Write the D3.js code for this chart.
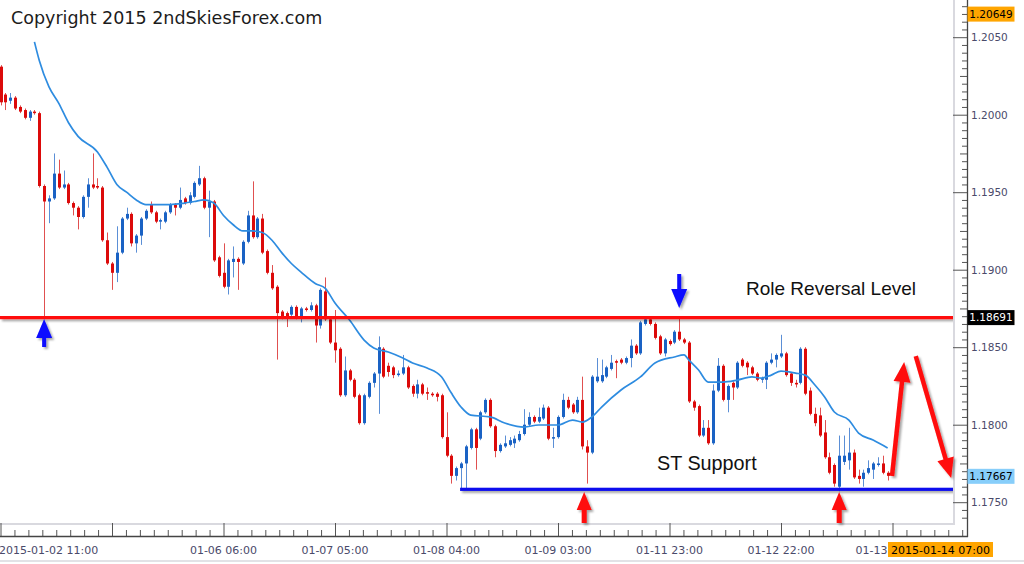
<!DOCTYPE html>
<html><head><meta charset="utf-8">
<script src="https://cdn.jsdelivr.net/npm/d3@7"></script>
<style>
html,body{margin:0;padding:0;background:#fff;}
svg{display:block;}
</style></head><body>
<svg id="chart" width="1024" height="564"></svg>
<script>
// ---- hourly EURUSD candles (index 0 = 2015-01-02 11:00) ----
const open = [1.2031,1.2013,1.2009,1.2011,1.2005,1.2003,1.1998,1.2002,1.2001,1.1954,
1.1944,1.1946,1.1962,1.1953,1.1955,1.1943,1.1940,1.1934,1.1947,1.1955,
1.1954,1.1953,1.1919,1.1904,1.1898,1.1911,1.1933,1.1936,1.1917,1.1922,
1.1933,1.1942,1.1937,1.1931,1.1931,1.1937,1.1942,1.1940,1.1946,1.1943,
1.1947,1.1955,1.1959,1.1940,1.1944,1.1908,1.1898,1.1889,1.1905,1.1907,
1.1904,1.1918,1.1935,1.1921,1.1933,1.1912,1.1898,1.1889,1.1873,1.1872,
1.1871,1.1876,1.1869,1.1875,1.1874,1.1877,1.1864,1.1886,1.1868,1.1853,
1.1849,1.1819,1.1835,1.1829,1.1819,1.1801,1.1818,1.1827,1.1833,1.1849,
1.1838,1.1837,1.1832,1.1833,1.1837,1.1825,1.1820,1.1826,1.1821,1.1820,
1.1820,1.1819,1.1792,1.1780,1.1767,1.1772,1.1775,1.1785,1.1797,1.1791,
1.1808,1.1816,1.1799,1.1783,1.1786,1.1787,1.1788,1.1790,1.1794,1.1800,
1.1805,1.1802,1.1804,1.1811,1.1791,1.1792,1.1805,1.1816,1.1813,1.1808,
1.1816,1.1786,1.1782,1.1828,1.1828,1.1831,1.1836,1.1841,1.1842,1.1840,
1.1843,1.1851,1.1846,1.1865,1.1868,1.1865,1.1857,1.1846,1.1854,1.1853,
1.1860,1.1855,1.1853,1.1815,1.1812,1.1793,1.1798,1.1788,1.1822,1.1838,
1.1816,1.1827,1.1824,1.1842,1.1840,1.1837,1.1833,1.1829,1.1829,1.1840,
1.1842,1.1844,1.1846,1.1833,1.1827,1.1827,1.1849,1.1822,1.1807,1.1806,
1.1795,1.1779,1.1774,1.1760,1.1776,1.1777,1.1782,1.1767,1.1765,1.1769,
1.1771,1.1774,1.1775,1.1769];
const high = [1.2032,1.2014,1.2014,1.2012,1.2006,1.2004,1.2003,1.2003,1.2002,1.1955,
1.1948,1.1975,1.1971,1.1964,1.1956,1.1944,1.1941,1.1948,1.1959,1.1975,
1.1959,1.1954,1.1924,1.1905,1.1928,1.1934,1.1940,1.1937,1.1923,1.1934,
1.1939,1.1944,1.1938,1.1933,1.1938,1.1943,1.1943,1.1953,1.1947,1.1950,
1.1957,1.1967,1.1960,1.1951,1.1945,1.1909,1.1917,1.1907,1.1915,1.1908,
1.1919,1.1938,1.1957,1.1934,1.1936,1.1913,1.1903,1.1890,1.1874,1.1873,
1.1877,1.1877,1.1876,1.1876,1.1879,1.1878,1.1888,1.1895,1.1869,1.1874,
1.1850,1.1844,1.1836,1.1830,1.1820,1.1820,1.1828,1.1834,1.1857,1.1850,
1.1840,1.1838,1.1835,1.1845,1.1838,1.1826,1.1829,1.1827,1.1824,1.1821,
1.1821,1.1820,1.1808,1.1781,1.1773,1.1776,1.1787,1.1798,1.1798,1.1809,
1.1817,1.1817,1.1800,1.1788,1.1793,1.1792,1.1793,1.1796,1.1810,1.1808,
1.1806,1.1811,1.1813,1.1812,1.1798,1.1806,1.1820,1.1818,1.1814,1.1818,
1.1831,1.1790,1.1832,1.1843,1.1842,1.1838,1.1845,1.1842,1.1843,1.1844,
1.1855,1.1852,1.1867,1.1869,1.1869,1.1866,1.1858,1.1856,1.1855,1.1861,
1.1869,1.1856,1.1854,1.1816,1.1813,1.1803,1.1803,1.1826,1.1843,1.1839,
1.1826,1.1828,1.1841,1.1843,1.1841,1.1838,1.1834,1.1831,1.1841,1.1846,
1.1846,1.1858,1.1847,1.1834,1.1829,1.1850,1.1850,1.1824,1.1811,1.1811,
1.1803,1.1782,1.1775,1.1793,1.1793,1.1798,1.1784,1.1771,1.1771,1.1777,
1.1776,1.1779,1.1780,1.1770];
const low = [1.2006,1.2003,1.2007,1.2003,1.2001,1.1997,1.1996,1.2000,1.1953,1.1869,
1.1930,1.1945,1.1952,1.1952,1.1942,1.1935,1.1926,1.1933,1.1940,1.1952,
1.1952,1.1918,1.1903,1.1887,1.1892,1.1910,1.1932,1.1915,1.1911,1.1916,
1.1932,1.1936,1.1930,1.1926,1.1930,1.1936,1.1935,1.1939,1.1942,1.1942,
1.1946,1.1954,1.1939,1.1921,1.1905,1.1895,1.1888,1.1884,1.1895,1.1887,
1.1903,1.1917,1.1920,1.1920,1.1910,1.1897,1.1887,1.1842,1.1868,1.1863,
1.1870,1.1868,1.1866,1.1873,1.1873,1.1853,1.1862,1.1867,1.1852,1.1840,
1.1818,1.1818,1.1828,1.1817,1.1800,1.1800,1.1817,1.1824,1.1807,1.1830,
1.1831,1.1830,1.1831,1.1832,1.1823,1.1818,1.1817,1.1819,1.1816,1.1818,
1.1815,1.1791,1.1779,1.1762,1.1764,1.1758,1.1758,1.1784,1.1771,1.1790,
1.1807,1.1798,1.1779,1.1782,1.1785,1.1786,1.1785,1.1789,1.1793,1.1799,
1.1801,1.1801,1.1803,1.1790,1.1785,1.1791,1.1804,1.1810,1.1807,1.1807,
1.1784,1.1762,1.1781,1.1827,1.1827,1.1830,1.1835,1.1830,1.1839,1.1839,
1.1837,1.1845,1.1845,1.1864,1.1864,1.1855,1.1845,1.1844,1.1851,1.1852,
1.1854,1.1852,1.1814,1.1809,1.1792,1.1792,1.1787,1.1787,1.1821,1.1815,
1.1808,1.1816,1.1823,1.1837,1.1832,1.1832,1.1828,1.1827,1.1823,1.1839,
1.1837,1.1843,1.1831,1.1825,1.1824,1.1826,1.1819,1.1806,1.1799,1.1792,
1.1778,1.1768,1.1760,1.1757,1.1774,1.1771,1.1765,1.1762,1.1760,1.1768,
1.1765,1.1773,1.1768,1.1764];
const close = [1.2008,1.2008,1.2011,1.2004,1.2002,1.1998,1.2002,1.2001,1.1954,1.1944,
1.1946,1.1962,1.1953,1.1955,1.1943,1.1940,1.1934,1.1947,1.1955,1.1953,
1.1953,1.1919,1.1904,1.1898,1.1911,1.1933,1.1936,1.1917,1.1922,1.1933,
1.1938,1.1937,1.1931,1.1932,1.1937,1.1942,1.1940,1.1945,1.1943,1.1948,
1.1956,1.1959,1.1940,1.1944,1.1906,1.1896,1.1889,1.1906,1.1907,1.1905,
1.1918,1.1935,1.1921,1.1933,1.1911,1.1898,1.1888,1.1872,1.1869,1.1869,
1.1876,1.1869,1.1875,1.1874,1.1877,1.1864,1.1887,1.1868,1.1853,1.1848,
1.1819,1.1835,1.1829,1.1818,1.1801,1.1819,1.1827,1.1833,1.1850,1.1831,
1.1834,1.1832,1.1833,1.1837,1.1824,1.1820,1.1826,1.1820,1.1820,1.1819,
1.1818,1.1792,1.1780,1.1767,1.1772,1.1775,1.1786,1.1797,1.1785,1.1808,
1.1816,1.1799,1.1783,1.1787,1.1788,1.1790,1.1791,1.1794,1.1800,1.1805,
1.1802,1.1805,1.1811,1.1791,1.1792,1.1805,1.1816,1.1811,1.1808,1.1816,
1.1786,1.1782,1.1831,1.1831,1.1832,1.1837,1.1840,1.1840,1.1840,1.1843,
1.1851,1.1846,1.1866,1.1868,1.1865,1.1856,1.1846,1.1855,1.1852,1.1860,
1.1855,1.1853,1.1815,1.1811,1.1793,1.1798,1.1788,1.1822,1.1838,1.1816,
1.1825,1.1824,1.1840,1.1838,1.1837,1.1833,1.1829,1.1830,1.1840,1.1842,
1.1845,1.1846,1.1832,1.1827,1.1826,1.1849,1.1820,1.1807,1.1801,1.1793,
1.1779,1.1769,1.1762,1.1780,1.1780,1.1782,1.1766,1.1765,1.1769,1.1772,
1.1775,1.1775,1.1769,1.1767];

// moving average (candle index, price)
const maIndex = [7,8,10,12,14,16,20,22,24,26,28,30,32,35,38,40,42,44,46,48,50,52,54,56,58,60,62,65,67,69,72,75,77,80,83,85,88,91,93,95,97,101,104,108,111,115,118,120,122,124,128,132,135,139,141,142,144,146,149,152,155,157,159,161,164,166,168,170,172,175,177,180,183];
const maValue = [1.2047,1.2035,1.2018,1.20075,1.1995,1.1986,1.1976,1.1966,1.1955,1.1950,1.1945,1.1942,1.1942,1.1942,1.1943,1.1944,1.1945,1.1943,1.1935,1.1929,1.1925,1.1925,1.1924,1.1919,1.1911,1.1904,1.18985,1.1891,1.1888,1.18785,1.18675,1.18546,1.18495,1.18469,1.1843,1.18398,1.18366,1.18308,1.18204,1.18114,1.18062,1.1805,1.18011,1.17985,1.17998,1.17998,1.1803,1.18017,1.1805,1.18114,1.18224,1.18308,1.18398,1.18437,1.1845,1.18417,1.18353,1.18275,1.18275,1.18288,1.18308,1.18301,1.1832,1.18346,1.18333,1.1832,1.18256,1.18179,1.18082,1.1803,1.17946,1.17901,1.1785];

// axes
const yTickValues = [1.1750,1.1800,1.1850,1.1900,1.1950,1.2000,1.2050];
const xTickIndex = [0,23,46,69,92,115,138,161,184];
const xTickLabels = ["2015-01-02 11:00","","01-06 06:00","01-07 05:00","01-08 04:00","01-09 03:00","01-11 23:00","01-12 22:00","01-13"];

// levels and price tags
const resistanceLevel = 1.18691;
const supportLevel = 1.17583;
const supportStartIndex = 94.8;
const tagValues = [1.20649, 1.18691, 1.17667];
const tagLabels = ["1.20649", "1.18691", "1.17667"];
const timeTagLabel = "2015-01-14 07:00";

// arrows (tail -> tip, in candle index / price)
const arrowTailIndex = [9, 140, 120.4, 173, 183.9, 188.8];
const arrowTailPrice = [1.18501, 1.18972, 1.17366, 1.17366, 1.17669, 1.18443];
const arrowTipIndex  = [9, 140, 120.4, 173, 186.4, 196.1];
const arrowTipPrice  = [1.18682, 1.18753, 1.17566, 1.17566, 1.18405, 1.17656];
const arrowKind = ["blue","blue","red","red","redBig","redBig"];

// ---------------- drawing ----------------
const plotRight = 953, plotBottom = 523, axisX = 967, axisY = 536;
const svg = d3.select("#chart");
const x = d3.scaleLinear().domain([0, 184]).range([0.5, 892.5]);
const y = d3.scaleLinear().domain([1.1750, 1.2050]).range([502.2, 37.2]);

const defs = svg.append("defs");
defs.append("clipPath").attr("id","clip").append("rect")
  .attr("x",0).attr("y",0).attr("width",plotRight).attr("height",plotBottom);
const f = defs.append("filter").attr("id","shadow")
  .attr("filterUnits","userSpaceOnUse").attr("x",-20).attr("y",-20).attr("width",1064).attr("height",604);
f.append("feDropShadow").attr("dx",2).attr("dy",2).attr("stdDeviation",1.2)
  .attr("flood-color","#000").attr("flood-opacity",0.35);

svg.append("rect").attr("width",1024).attr("height",564).attr("fill","#fff");

const upCol = "#1a62c4", downCol = "#dc0a0a";
const upWick = "#5b8fd6", downWick = "#e05050";

const candles = open.map((o,i)=>({i, o, h:high[i], l:low[i], c:close[i]}));
const plot = svg.append("g").attr("clip-path","url(#clip)");

plot.selectAll("line.wick").data(candles).join("line").attr("class","wick")
  .attr("x1", d=>Math.round(x(d.i))+0.5).attr("x2", d=>Math.round(x(d.i))+0.5)
  .attr("y1", d=>y(d.h)).attr("y2", d=>y(d.l))
  .attr("stroke", d=>d.c>=d.o?upWick:downWick).attr("stroke-width",1);

plot.selectAll("rect.body").data(candles).join("rect").attr("class","body")
  .attr("x", d=>Math.round(x(d.i))-1).attr("width",3)
  .attr("y", d=>Math.min(y(d.o),y(d.c)))
  .attr("height", d=>Math.max(1.5, Math.abs(y(d.o)-y(d.c))))
  .attr("fill", d=>d.c>=d.o?upCol:downCol);

const maData = maIndex.map((k,j)=>[k, maValue[j]]);
plot.append("path").datum(maData)
  .attr("d", d3.line().x(d=>x(d[0])).y(d=>y(d[1])).curve(d3.curveMonotoneX))
  .attr("fill","none").attr("stroke","#2e8ce0").attr("stroke-width",1.7);

// horizontal levels (drawn as thin bands)
const levels = plot.append("g").attr("filter","url(#shadow)");
levels.append("rect").attr("x",0).attr("width",plotRight)
  .attr("y",y(resistanceLevel)-1.6).attr("height",3.2).attr("fill","#ff0a0a");
levels.append("rect").attr("x",x(supportStartIndex)).attr("width",plotRight-x(supportStartIndex))
  .attr("y",y(supportLevel)-1.6).attr("height",3.2).attr("fill","#0a0aee");

// frame
svg.append("line").attr("x1",plotRight+1).attr("x2",plotRight+1).attr("y1",0).attr("y2",plotBottom+1)
  .attr("stroke","#d9d9df").attr("stroke-width",2);
svg.append("line").attr("x1",0).attr("x2",plotRight+2).attr("y1",plotBottom+1).attr("y2",plotBottom+1)
  .attr("stroke","#d9d9df").attr("stroke-width",2);
svg.append("line").attr("x1",0).attr("x2",1024).attr("y1",561).attr("y2",561)
  .attr("stroke","#e2e2e6").attr("stroke-width",2);

// y axis
const axisCol = "#555", labCol = "#4a4a6a";
const yAx = svg.append("g").attr("transform",`translate(${axisX},0)`)
  .call(d3.axisRight(y).tickValues(yTickValues).tickSizeInner(-14).tickSizeOuter(0)
        .tickPadding(4).tickFormat(d3.format(".4f")));
yAx.select(".domain").remove();
yAx.selectAll(".tick line").attr("stroke",axisCol);
yAx.selectAll(".tick text").attr("fill",labCol).style("font-family","DejaVu Sans").style("font-size","10.5px");

const yMinor = d3.range(1.1740, 1.20705, 0.0005).filter(v => Math.abs(Math.round(v/0.005)*0.005 - v) > 1e-6);
const yMinorAx = svg.append("g").attr("transform",`translate(${axisX},0)`)
  .call(d3.axisRight(y).tickValues(yMinor).tickSizeInner(-5).tickSizeOuter(0).tickFormat(""));
yMinorAx.select(".domain").remove();
yMinorAx.selectAll(".tick line").attr("stroke",axisCol)
  .attr("x2", d => Math.abs(Math.round(d/0.0025)*0.0025 - d) < 1e-6 ? -7 : -5);
svg.append("line").attr("x1",axisX+0.5).attr("x2",axisX+0.5).attr("y1",0).attr("y2",axisY+1)
  .attr("stroke","#444").attr("stroke-width",1.3);

// x axis
const xAx = svg.append("g").attr("transform",`translate(0,${axisY})`)
  .call(d3.axisBottom(x).tickValues(xTickIndex).tickSizeInner(-13).tickSizeOuter(0).tickFormat(""));
xAx.select(".domain").remove();
xAx.selectAll(".tick line").attr("stroke",axisCol);
const xMinor = d3.range(0, 70).filter(k => k % 8 !== 0).map(k => k*23/8);
const xMinorAx = svg.append("g").attr("transform",`translate(0,${axisY})`)
  .call(d3.axisBottom(x).tickValues(xMinor).tickSizeInner(-6).tickSizeOuter(0).tickFormat(""));
xMinorAx.select(".domain").remove();
xMinorAx.selectAll(".tick line").attr("stroke",axisCol);
svg.append("line").attr("x1",0).attr("x2",axisX+1).attr("y1",axisY+0.5).attr("y2",axisY+0.5)
  .attr("stroke","#444").attr("stroke-width",1.3);

const lastTick = xTickIndex.length - 1;
svg.append("g").selectAll("text").data(xTickIndex).join("text")
  .attr("x", (d,j)=> j===0 ? -1 : (j===lastTick ? x(d)-5 : x(d)))
  .attr("y", 553.5)
  .attr("text-anchor", (d,j)=> j===0 ? "start" : (j===lastTick ? "end" : "middle"))
  .attr("fill", labCol).style("font-family","DejaVu Sans").style("font-size","11px")
  .text((d,j)=>xTickLabels[j]);

// price tags
const tagFill = ["#ffa500","#000000","#87cefa"];
const tagText = ["#000","#fff","#000"];
const tags = svg.append("g");
tagValues.forEach((v,j)=>{
  tags.append("rect").attr("x",axisX+0.5).attr("y",y(v)-7.5).attr("width",47).attr("height",15).attr("fill",tagFill[j]);
  tags.append("text").attr("x",axisX+24).attr("y",y(v)).attr("dy","0.36em").attr("text-anchor","middle")
    .attr("fill",tagText[j]).style("font-family","DejaVu Sans").style("font-size","10.5px").text(tagLabels[j]);
});
svg.append("rect").attr("x",888).attr("y",542).attr("width",105).attr("height",15).attr("fill","#ffa500");
svg.append("text").attr("x",940.5).attr("y",553.5).attr("text-anchor","middle").attr("fill","#000")
  .style("font-family","DejaVu Sans").style("font-size","11px").text(timeTagLabel);

// arrows
function arrowPts(x1,y1,x2,y2,sw,hl,hw){
  const dx=x2-x1, dy=y2-y1, L=Math.hypot(dx,dy), ux=dx/L, uy=dy/L, px=-uy, py=ux;
  const bx=x2-ux*hl, by=y2-uy*hl;
  return [[x1+px*sw/2,y1+py*sw/2],[bx+px*sw/2,by+py*sw/2],[bx+px*hw/2,by+py*hw/2],[x2,y2],
          [bx-px*hw/2,by-py*hw/2],[bx-px*sw/2,by-py*sw/2],[x1-px*sw/2,y1-py*sw/2]];
}
const arrowStyle = {
  blue:{fill:"#0a0aff", sw:4, hl:19, hw:16},
  red:{fill:"#ff0a0a", sw:5, hl:18, hw:15},
  redBig:{fill:"#ff0a0a", sw:4.5, hl:20, hw:17}
};
const arrows = svg.append("g").attr("filter","url(#shadow)");
arrowKind.forEach((k,j)=>{
  const s = arrowStyle[k];
  const pts = arrowPts(x(arrowTailIndex[j]), y(arrowTailPrice[j]), x(arrowTipIndex[j]), y(arrowTipPrice[j]), s.sw, s.hl, s.hw);
  arrows.append("polygon").attr("points", pts.map(p=>p.join(",")).join(" ")).attr("fill", s.fill);
});

// texts
svg.append("text").attr("x",11).attr("y",24).attr("fill","#1c1c1c")
  .style("font-family","DejaVu Sans").style("font-size","17.5px").text("Copyright 2015 2ndSkiesForex.com");
svg.append("text").attr("x",746).attr("y",295).attr("fill","#111")
  .style("font-family","Liberation Sans").style("font-size","19px").text("Role Reversal Level");
svg.append("text").attr("x",657).attr("y",470).attr("fill","#111")
  .style("font-family","Liberation Sans").style("font-size","19.8px").text("ST Support");
</script>
</body></html>
